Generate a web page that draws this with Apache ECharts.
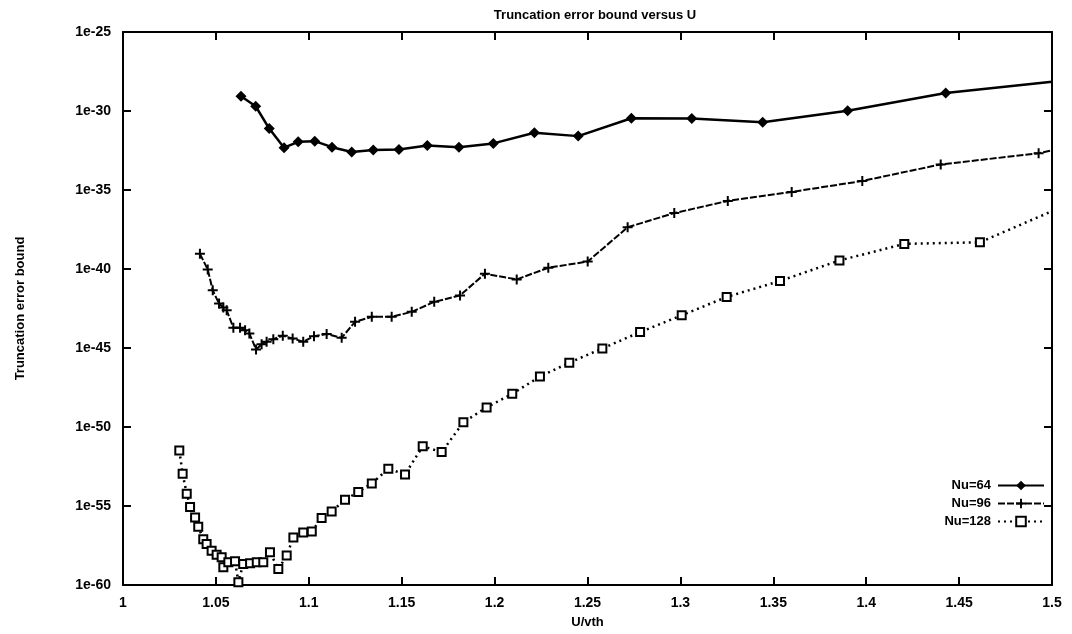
<!DOCTYPE html>
<html>
<head>
<meta charset="utf-8">
<script src="https://cdn.jsdelivr.net/npm/echarts@6/dist/echarts.min.js"></script>
<style>
html,body{margin:0;padding:0;background:#fff;}
#chart{width:1072px;height:634px;}
</style>
</head>
<body>
<div id="chart"></div>
<script>
// x values (U/vth) and log10 of truncation error bound (y axis is logarithmic, drawn in decades)
const nu64X = [1.0635,1.0714,1.0787,1.0867,1.0943,1.1032,1.1125,1.1231,1.1347,1.1485,1.1638,1.1808,1.1993,1.2214,1.2450,1.2736,1.3061,1.3443,1.3900,1.4428,1.5];
const nu64Exp = [-29.07,-29.70,-31.11,-32.32,-31.95,-31.91,-32.29,-32.60,-32.47,-32.43,-32.18,-32.29,-32.05,-31.38,-31.59,-30.46,-30.48,-30.71,-29.99,-28.86,-28.15];

const nu96X = [1.0414,1.0456,1.0483,1.0517,1.0540,1.0558,1.0594,1.0630,1.0657,1.0680,1.0716,1.0746,1.0773,1.0809,1.0860,1.0913,1.0970,1.1028,1.1096,1.1177,1.1249,1.1339,1.1446,1.1554,1.1675,1.1814,1.1948,1.2119,1.2289,1.2501,1.2716,1.2967,1.3255,1.3599,1.3979,1.4401,1.4928,1.5];
const nu96Exp = [-39.04,-40.03,-41.35,-42.19,-42.44,-42.61,-43.72,-43.72,-43.87,-44.08,-45.09,-44.77,-44.60,-44.44,-44.23,-44.40,-44.60,-44.25,-44.12,-44.35,-43.34,-43.03,-43.03,-42.71,-42.08,-41.67,-40.30,-40.66,-39.92,-39.53,-37.36,-36.46,-35.69,-35.12,-34.43,-33.38,-32.68,-32.49];

const nu128X = [1.0303,1.0321,1.0343,1.0361,1.0388,1.0405,1.0432,1.0450,1.0477,1.0504,1.0531,1.0540,1.0567,1.0603,1.0621,1.0647,1.0684,1.0720,1.0755,1.0791,1.0836,1.0881,1.0917,1.0970,1.1016,1.1069,1.1123,1.1195,1.1266,1.1339,1.1428,1.1518,1.1613,1.1715,1.1832,1.1957,1.2095,1.2244,1.2402,1.2580,1.2783,1.3007,1.3249,1.3536,1.3856,1.4205,1.4612,1.5];
const nu128Exp = [-51.49,-52.96,-54.22,-55.06,-55.73,-56.32,-57.10,-57.41,-57.83,-58.08,-58.25,-58.88,-58.56,-58.50,-59.82,-58.67,-58.63,-58.56,-58.56,-57.93,-58.99,-58.14,-56.99,-56.68,-56.61,-55.76,-55.35,-54.60,-54.11,-53.57,-52.64,-53.00,-51.22,-51.59,-49.70,-48.76,-47.90,-46.81,-45.93,-45.03,-43.99,-42.93,-41.77,-40.76,-39.46,-38.41,-38.31,-36.34];

const seriesNames = ['Nu=64','Nu=96','Nu=128'];
const xTickLabels = ['1','1.05','1.1','1.15','1.2','1.25','1.3','1.35','1.4','1.45','1.5'];
const yTickLabels = ['1e-60','1e-55','1e-50','1e-45','1e-40','1e-35','1e-30','1e-25'];

function build(xs, es, lastNoSymbol) {
  return xs.map((x, i) => {
    const item = { value: [x, es[i]] };
    if (lastNoSymbol && i === xs.length - 1) item.symbol = 'none';
    return item;
  });
}

const font = 'Liberation Sans, Arial, sans-serif';
const chart = echarts.init(document.getElementById('chart'));
const plusPath = 'path://M4,0H6V4H10V6H6V10H4V6H0V4H4Z';
const axLine = { show: true, lineStyle: { color: '#000', width: 2 } };
const axTick = { show: true, inside: true, length: 8, lineStyle: { color: '#000', width: 2 } };
const lblStyle = { fontFamily: font, fontSize: 13, fontWeight: 'bold', color: '#000' };
const lblStyle14 = { fontFamily: font, fontSize: 14, fontWeight: 'bold', color: '#000' };

chart.setOption({
  animation: false,
  backgroundColor: '#fff',
  title: {
    text: 'Truncation error bound versus U',
    left: 590, top: 4, textAlign: 'center',
    textStyle: { fontFamily: font, fontSize: 13, fontWeight: 'bold', color: '#000' }
  },
  grid: { left: 123, right: 20, top: 32, bottom: 47 },
  legend: {
    data: seriesNames,
    orient: 'vertical',
    right: 22, top: 474,
    align: 'right',
    itemWidth: 46, itemHeight: 12, itemGap: 5,
    textStyle: { fontFamily: font, fontSize: 13, fontWeight: 'bold', color: '#000', padding: [0, 2, 0, 0] }
  },
  xAxis: [{
    type: 'value', min: 1, max: 1.5, interval: 0.05,
    name: 'U/vth', nameLocation: 'middle', nameGap: 31,
    nameTextStyle: lblStyle,
    axisLine: axLine, axisTick: axTick,
    splitLine: { show: false },
    axisLabel: Object.assign({ margin: 11,
      formatter: v => { const i = Math.round((v - 1) / 0.05); return xTickLabels[i] !== undefined ? xTickLabels[i] : ''; }
    }, lblStyle14)
  }, {
    type: 'value', min: 1, max: 1.5, interval: 0.05, position: 'top',
    axisLine: axLine, axisTick: axTick,
    axisLabel: { show: false }, splitLine: { show: false }
  }],
  yAxis: [{
    type: 'value', min: -60, max: -25, interval: 5,
    name: 'Truncation error bound', nameLocation: 'middle', nameGap: 96, nameRotate: 90,
    nameTextStyle: lblStyle,
    axisLine: axLine, axisTick: axTick,
    splitLine: { show: false },
    axisLabel: Object.assign({ margin: 12,
      formatter: v => { const i = Math.round((v + 60) / 5); return yTickLabels[i] !== undefined ? yTickLabels[i] : ''; }
    }, lblStyle14)
  }, {
    type: 'value', min: -60, max: -25, interval: 5, position: 'right',
    axisLine: axLine, axisTick: axTick,
    axisLabel: { show: false }, splitLine: { show: false }
  }],
  series: [{
    name: seriesNames[0], type: 'line', clip: true,
    data: build(nu64X, nu64Exp, true),
    symbol: 'diamond', symbolSize: 11,
    itemStyle: { color: '#000' },
    lineStyle: { color: '#000', width: 2.5, type: 'solid' }
  }, {
    name: seriesNames[1], type: 'line', clip: true,
    data: build(nu96X, nu96Exp, true),
    symbol: plusPath, symbolSize: 10,
    itemStyle: { color: '#000' },
    lineStyle: { color: '#000', width: 2, type: [7, 2] }
  }, {
    name: seriesNames[2], type: 'line', clip: true,
    data: build(nu128X, nu128Exp, true),
    symbol: 'rect', symbolSize: 8,
    itemStyle: { color: '#fff', borderColor: '#000', borderWidth: 2 },
    lineStyle: { color: '#000', width: 2.5, type: [2, 4] }
  }]
});
</script>
</body>
</html>
